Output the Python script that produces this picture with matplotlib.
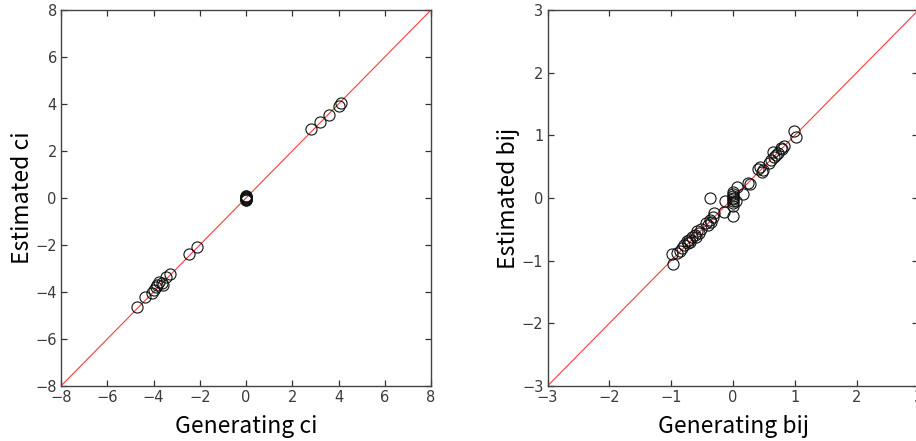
import matplotlib
matplotlib.use("Agg")
import matplotlib.pyplot as plt
import numpy as np

# Left panel: ci
gen_ci = [-4.72, -4.35, -4.07, -4.0, -3.9, -3.85, -3.75, -3.6, -3.62, -3.46, -3.3,
          -2.45, -2.1,
          0.0, 0.0, 0.0, 0.01, -0.01, 0.0, 0.02, 0.0, 0.0, -0.01,
          2.83, 3.22, 3.58, 4.0, 4.1]
est_ci = [-4.62, -4.22, -4.05, -3.92, -3.8, -3.7, -3.56, -3.72, -3.62, -3.36, -3.25,
          -2.4, -2.08,
          0.05, -0.05, 0.0, 0.08, -0.1, 0.02, -0.03, 0.1, -0.08, 0.04,
          2.92, 3.24, 3.55, 3.9, 4.05]

# Right panel: bij
gen_bij = [-0.97, -0.99, -0.91, -0.86, -0.83, -0.8, -0.75, -0.71, -0.67, -0.62,
           -0.58, -0.55, -0.73, -0.69, -0.6, -0.52,
           -0.44, -0.4, -0.37, -0.32, -0.3, -0.36,
           -0.37, -0.13, -0.14, 0.0, 0.0, 0.0, 0.0, 0.0, 0.0, 0.0, 0.0, 0.0,
           0.05, 0.07, 0.16, 0.25, 0.27,
           0.4, 0.44, 0.49, 0.47, 0.58, 0.62, 0.65, 0.67, 0.73, 0.7, 0.78, 0.83, 0.8,
           0.99, 1.02]
est_bij = [-1.05, -0.89, -0.88, -0.84, -0.8, -0.75, -0.69, -0.67, -0.63, -0.59,
           -0.52, -0.56, -0.72, -0.7, -0.62, -0.5,
           -0.4, -0.43, -0.35, -0.3, -0.24, -0.38,
           0.0, -0.05, -0.22, -0.28, -0.12, -0.08, -0.05, -0.02, 0.0, 0.03, 0.06, 0.09,
           -0.05, 0.17, 0.06, 0.24, 0.22,
           0.46, 0.5, 0.45, 0.42, 0.56, 0.61, 0.74, 0.66, 0.72, 0.68, 0.8, 0.83, 0.78,
           1.07, 0.98]

ci_ticks = [-8, -6, -4, -2, 0, 2, 4, 6, 8]
bij_ticks = [-3, -2, -1, 0, 1, 2, 3]

W, H = 916, 441
fig = plt.figure(figsize=(W / 100, H / 100), dpi=100)

label_font = ['Noto Sans CJK JP', 'DejaVu Sans']


def style(ax, lim, ticks, xl, yl):
    ax.set_xlim(-lim, lim)
    ax.set_ylim(-lim, lim)
    ax.set_xticks(ticks)
    ax.set_yticks(ticks)
    ax.set_xticklabels([str(t).replace('-', '\u2212') for t in ticks])
    ax.set_yticklabels([str(t).replace('-', '\u2212') for t in ticks])
    ax.tick_params(direction='in', length=4, width=0.9, top=True, right=True,
                   labelsize=10.5, labelcolor='#3a3a3a', color='#333333', pad=3)
    for s in ax.spines.values():
        s.set_color('#444444')
        s.set_linewidth(1.0)
    ax.set_xlabel(xl, fontsize=16.5, family=label_font, labelpad=7)
    ax.set_ylabel(yl, fontsize=16.5, family=label_font, labelpad=1)


ax1 = fig.add_axes([61 / W, 55 / H, 370 / W, 376 / H])
ax1.plot([-8, 8], [-8, 8], color='#ff3b3b', lw=0.8)
ax1.plot(gen_ci, est_ci, 'o', mfc='none', mec='#111111', mew=0.8, ms=8)
style(ax1, 8, ci_ticks, 'Generating ci', 'Estimated ci')

ax2 = fig.add_axes([547.5 / W, 55 / H, 371 / W, 376 / H])
ax2.plot([-3, 3], [-3, 3], color='#ff3b3b', lw=0.8)
ax2.plot(gen_bij, est_bij, 'o', mfc='none', mec='#111111', mew=0.8, ms=8)
style(ax2, 3, bij_ticks, 'Generating bij', 'Estimated bij')

fig.savefig('out.png', dpi=100)
